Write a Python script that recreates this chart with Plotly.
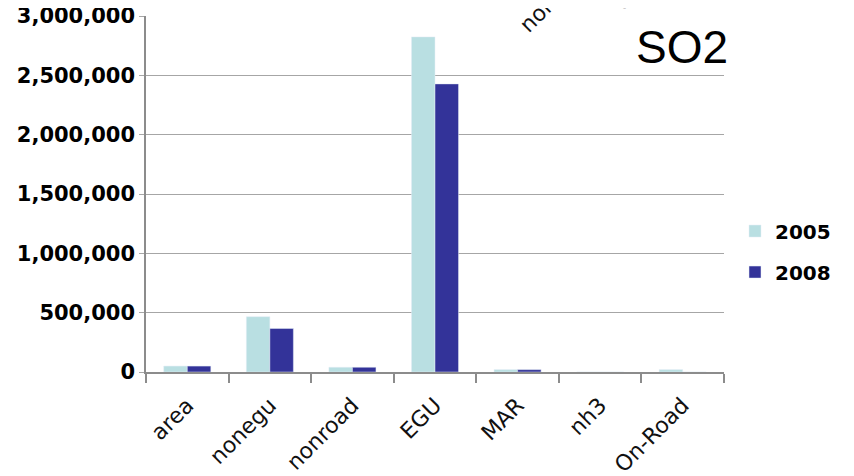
import plotly.graph_objects as go

categories = ["area", "nonegu", "nonroad", "EGU", "MAR", "nh3", "On-Road"]
so2_2005 = [50000, 466000, 40000, 2824000, 20000, 0, 20000]
so2_2008 = [50000, 367000, 40000, 2428000, 20000, 0, 0]
y_ticks = [0, 500000, 1000000, 1500000, 2000000, 2500000, 3000000]
y_tick_labels = ["0", "500,000", "1,000,000", "1,500,000", "2,000,000", "2,500,000", "3,000,000"]
# cut-off category labels from the chart above (only their starts show)
top_fragments = ["nonpoint", "On-Road"]

W, H = 854, 476
OFF = 8  # page body margin: the figure is drawn 8 px right/down in the window
# plot area in window pixels
P_LEFT, P_RIGHT, P_TOP, P_BOTTOM = 146, 724, 16.3, 372.5
L = P_LEFT - OFF
R = W - (P_RIGHT - OFF)
T = P_TOP - OFF
B = H - (P_BOTTOM - OFF)
PW, PH = P_RIGHT - P_LEFT, P_BOTTOM - P_TOP


def px_x(px):
    return (px - P_LEFT) / PW


def px_y(py):
    return (P_BOTTOM - py) / PH


annotations = [dict(text="SO2", xref="paper", yref="paper", x=px_x(682), y=px_y(47),
                    xanchor="center", yanchor="middle", showarrow=False,
                    font=dict(family="Liberation Sans", size=46, color="black"))]
frag_pos = [(512, 40), (607, 19)]
for txt, (fx, fy) in zip(top_fragments, frag_pos):
    annotations.append(dict(text=txt, xref="paper", yref="paper", x=px_x(fx), y=px_y(fy),
                            xanchor="left", yanchor="bottom", showarrow=False, textangle=-45,
                            font=dict(family="DejaVu Sans", size=22, color="#111")))

fig = go.Figure()
fig.add_trace(go.Bar(name="2005", x=categories, y=so2_2005, marker_color="#B9DFE2",
                     legendgroup="a"))
fig.add_trace(go.Bar(name="2008", x=categories, y=so2_2008, marker_color="#333399",
                     legendgroup="b"))

fig.update_layout(
    width=W, height=H,
    margin=dict(l=L, r=R, t=T, b=B, autoexpand=False),
    paper_bgcolor="white", plot_bgcolor="white",
    barmode="group", bargap=0.43, bargroupgap=0,
    font=dict(family="DejaVu Sans", color="black"),
    showlegend=True,
    legend=dict(x=px_x(735), y=px_y(252), xanchor="left", yanchor="middle",
                font=dict(family="DejaVu Sans", size=20, color="black", weight="bold"),
                traceorder="grouped", tracegroupgap=12, bgcolor="rgba(0,0,0,0)"),
    xaxis=dict(showline=True, linecolor="#8C8C8C", linewidth=1.5, automargin=False,
               ticks="outside", ticklen=9, tickcolor="#8C8C8C", tickwidth=1.5,
               tickson="boundaries", tickangle=-45, ticklabelstandoff=10,
               ticklabeloverflow="allow",
               tickfont=dict(family="DejaVu Sans", size=22, color="#111")),
    yaxis=dict(range=[0, 3000000], tickvals=y_ticks, ticktext=y_tick_labels,
               showgrid=True, gridcolor="#A6A6A6", gridwidth=1.2, automargin=False,
               showline=True, linecolor="#8C8C8C", linewidth=1.5,
               ticks="outside", ticklen=5, tickcolor="#A6A6A6", ticklabelstandoff=0,
               ticklabeloverflow="allow", zeroline=False,
               tickfont=dict(family="DejaVu Sans", size=21, color="black", weight="bold")),
    annotations=annotations,
)

fig.write_html("out.html")
